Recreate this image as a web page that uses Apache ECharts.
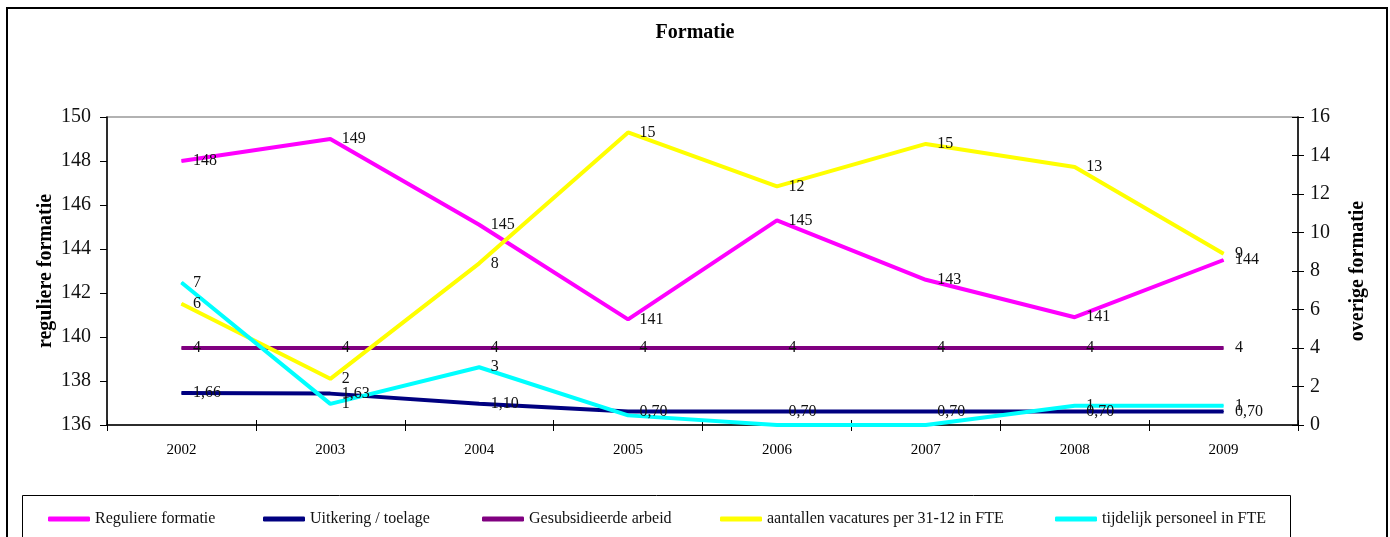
<!DOCTYPE html>
<html>
<head>
<meta charset="utf-8">
<style>
  html, body { margin: 0; padding: 0; background: #fff; }
  #chart { width: 1390px; height: 537px; }
</style>
<script src="https://cdn.jsdelivr.net/npm/echarts@6/dist/echarts.min.js"></script>
</head>
<body>
<div id="chart"></div>
<script>
// Years on the category axis
var categories = ['2002', '2003', '2004', '2005', '2006', '2007', '2008', '2009'];

// Left axis: regular staff
var reguliereFormatie = [148, 149, 145.1, 140.8, 145.3, 142.6, 140.9, 143.5];

// Right axis: other staff categories
var uitkeringToelage = [1.66, 1.63, 1.10, 0.70, 0.70, 0.70, 0.70, 0.70];
var gesubsidieerdeArbeid = [4, 4, 4, 4, 4, 4, 4, 4];
var vacatures = [6.3, 2.4, 8.4, 15.2, 12.4, 14.6, 13.4, 8.9];
var tijdelijkPersoneel = [7.4, 1.1, 3.0, 0.5, 0, 0, 1, 1];

var seriesNames = [
  'Reguliere formatie',
  'Uitkering / toelage',
  'Gesubsidieerde arbeid',
  'aantallen vacatures per 31-12 in FTE',
  'tijdelijk personeel in FTE'
];
var seriesColors = ['#ff00ff', '#000080', '#800080', '#ffff00', '#00ffff'];

var serif = '"Liberation Serif", "DejaVu Serif", serif';

function roundLabel(p) { return String(Math.round(p.value)); }
function commaLabel(p) { return p.value.toFixed(2).replace('.', ','); }
function smallHidden(p) { return p.value < 0.6 ? '' : String(Math.round(p.value)); }

function lineSeries(name, data, color, axisIndex, formatter) {
  return {
    name: name,
    type: 'line',
    data: data,
    xAxisIndex: 0,
    yAxisIndex: axisIndex,
    symbol: 'circle',
    symbolSize: 1,
    showSymbol: true,
    itemStyle: { color: color },
    lineStyle: { color: color, width: 4 },
    emphasis: { disabled: true },
    label: {
      show: true,
      position: 'right',
      distance: 11,
      formatter: formatter,
      fontFamily: serif,
      fontSize: 16,
      color: '#111'
    }
  };
}

function legendAt(name, left) {
  return {
    data: [name],
    left: left,
    top: 511,
    padding: 0,
    itemWidth: 42,
    itemHeight: 5,
    itemGap: 0,
    icon: 'roundRect',
    selectedMode: false,
    textStyle: { fontFamily: serif, fontSize: 16, color: '#111' }
  };
}

// Transparent axis line so only the inward half of each tick is drawn
var hiddenLine = { show: true, lineStyle: { color: '#000', width: 0, opacity: 0 } };

var chart = echarts.init(document.getElementById('chart'), null, { renderer: 'canvas' });

chart.setOption({
  animation: false,
  backgroundColor: '#fff',
  title: {
    text: 'Formatie',
    left: 'center',
    top: 23,
    padding: 0,
    textStyle: { fontFamily: serif, fontSize: 20, fontWeight: 'bold', color: '#000' }
  },
  graphic: [
    {
      type: 'rect',
      shape: { x: 7, y: 8, width: 1380, height: 600 },
      style: { fill: 'none', stroke: '#000', lineWidth: 2 },
      silent: true
    },
    {
      type: 'rect',
      shape: { x: 22.5, y: 495.5, width: 1268, height: 80 },
      style: { fill: 'none', stroke: '#000', lineWidth: 1 },
      silent: true
    }
  ],
  legend: [
    legendAt(seriesNames[0], 48),
    legendAt(seriesNames[1], 263),
    legendAt(seriesNames[2], 482),
    legendAt(seriesNames[3], 720),
    legendAt(seriesNames[4], 1055)
  ],
  grid: {
    left: 107, right: 92, top: 117, bottom: 112,
    show: true, borderColor: '#999', borderWidth: 1.5, backgroundColor: 'transparent'
  },
  xAxis: [
    {
      type: 'category',
      data: categories,
      boundaryGap: true,
      position: 'bottom',
      axisLine: { show: true, onZero: false, lineStyle: { color: '#000', width: 1.5 } },
      axisTick: { show: true, length: 6, lineStyle: { color: '#000' } },
      axisLabel: { fontFamily: serif, fontSize: 15, color: '#000', margin: 18 },
      splitLine: { show: false }
    },
    {
      type: 'category',
      data: categories,
      boundaryGap: true,
      position: 'bottom',
      axisLine: { show: true, onZero: false, lineStyle: { color: '#000', width: 0, opacity: 0 } },
      axisTick: { show: true, inside: true, length: 5, lineStyle: { color: '#000' } },
      axisLabel: { show: false },
      splitLine: { show: false }
    }
  ],
  yAxis: [
    {
      type: 'value',
      position: 'left',
      min: 136, max: 150, interval: 2,
      axisLine: { show: true, lineStyle: { color: '#000', width: 1.5 } },
      axisTick: { show: true, length: 7, lineStyle: { color: '#000' } },
      axisLabel: { fontFamily: serif, fontSize: 20, color: '#111', margin: 16 },
      splitLine: { show: false },
      name: 'reguliere formatie',
      nameLocation: 'middle',
      nameRotate: 90,
      nameGap: 51,
      nameMoveOverlap: false,
      nameTextStyle: { fontFamily: serif, fontSize: 20, fontWeight: 'bold', color: '#000' }
    },
    {
      type: 'value',
      position: 'right',
      min: 0, max: 16, interval: 2,
      axisLine: { show: true, lineStyle: { color: '#000', width: 1.5 } },
      axisTick: { show: true, length: 6, lineStyle: { color: '#000' } },
      axisLabel: { fontFamily: serif, fontSize: 20, color: '#111', margin: 12 },
      splitLine: { show: false },
      name: 'overige formatie',
      nameLocation: 'middle',
      nameRotate: 90,
      nameGap: 50,
      nameMoveOverlap: false,
      nameTextStyle: { fontFamily: serif, fontSize: 20, fontWeight: 'bold', color: '#000' }
    },
    {
      type: 'value',
      position: 'right',
      min: 0, max: 16, interval: 2,
      axisLine: hiddenLine,
      axisTick: { show: true, inside: true, length: 6, lineStyle: { color: '#000' } },
      axisLabel: { show: false },
      splitLine: { show: false }
    }
  ],
  series: [
    lineSeries(seriesNames[0], reguliereFormatie, seriesColors[0], 0, roundLabel),
    lineSeries(seriesNames[1], uitkeringToelage, seriesColors[1], 1, commaLabel),
    lineSeries(seriesNames[2], gesubsidieerdeArbeid, seriesColors[2], 1, roundLabel),
    lineSeries(seriesNames[3], vacatures, seriesColors[3], 1, roundLabel),
    lineSeries(seriesNames[4], tijdelijkPersoneel, seriesColors[4], 1, smallHidden),
    // Empty series that binds the tick-only axes so they are laid out
    { type: 'line', data: [], xAxisIndex: 1, yAxisIndex: 2, silent: true }
  ]
});
</script>
</body>
</html>
